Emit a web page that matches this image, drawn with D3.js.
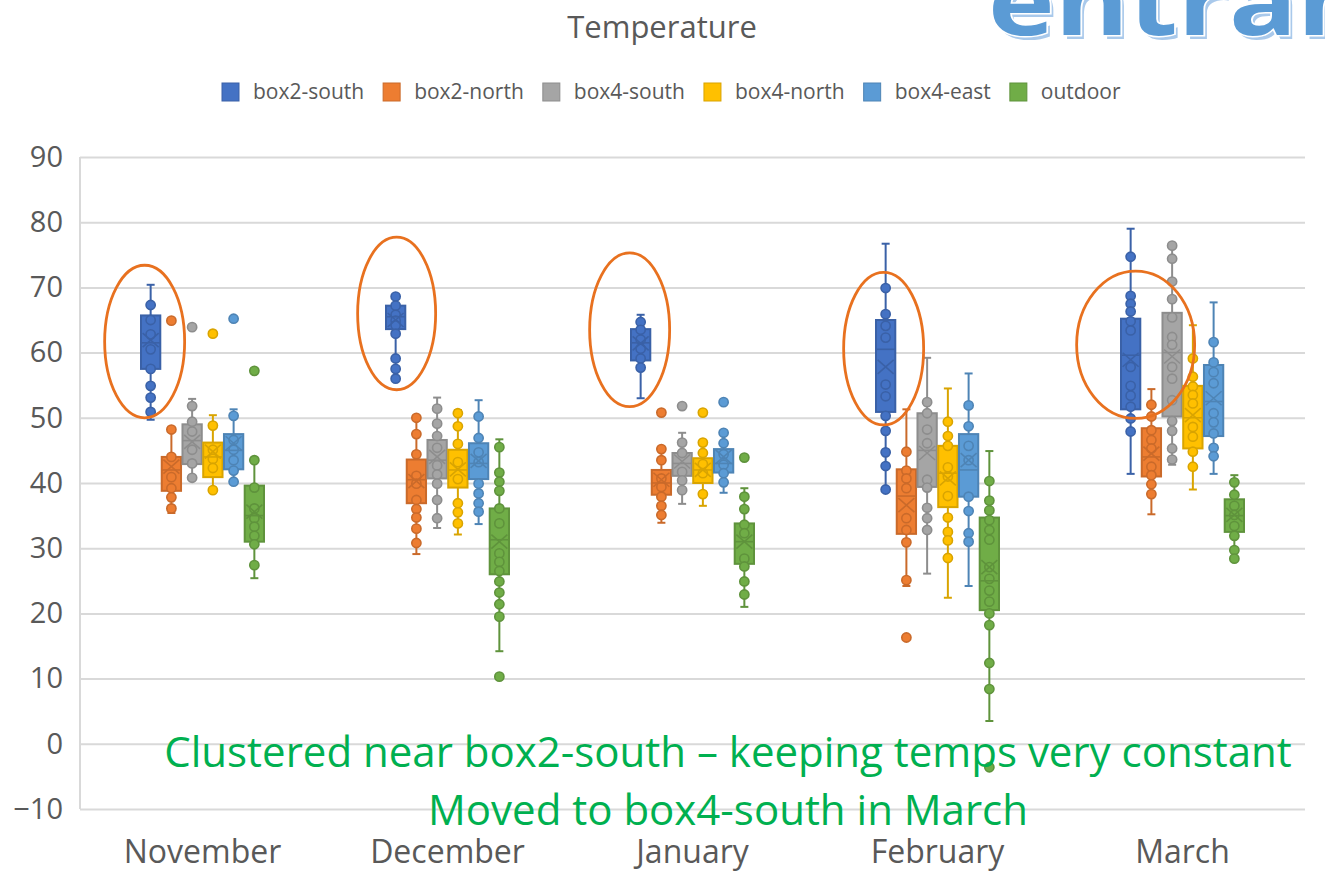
<!DOCTYPE html>
<html>
<head>
<meta charset="utf-8">
<script src="https://cdn.jsdelivr.net/npm/d3@7"></script>
<style>
  body { margin: 0; padding: 0; background: #fff; }
  svg { display: block; font-family: 'Open Sans', sans-serif; }
</style>
</head>
<body>
<div id="main"></div>
<script>
// months and series
const months = ['November', 'December', 'January', 'February', 'March'];
const seriesNames = ['box2-south', 'box2-north', 'box4-south', 'box4-north', 'box4-east', 'outdoor'];
const seriesColors = ['#4472C4', '#ED7D31', '#A5A5A5', '#FFC000', '#5B9BD5', '#70AD47'];
const yTicks = [-10, 0, 10, 20, 30, 40, 50, 60, 70, 80, 90];

// box stats per month: [whiskerLow, q1, median, q3, whiskerHigh, mean]
const box2South = [[49.7, 57.5, 61.5, 65.7, 70.4, 61.9], [56.0, 63.6, 65.5, 67.2, 68.6, 65.0], [53.0, 58.8, 61.5, 63.6, 65.8, 61.4], [39.0, 50.9, 60.5, 65.0, 76.7, 57.8], [41.4, 51.3, 59.6, 65.2, 79.0, 58.9]];
const box2North = [[35.4, 38.8, 42.0, 44.0, 48.2, 42.5], [29.1, 36.9, 40.5, 43.6, 50.0, 40.3], [33.9, 38.2, 40.0, 42.0, 45.2, 40.5], [24.2, 32.2, 38.0, 42.1, 51.3, 36.6], [35.2, 41.0, 44.0, 48.4, 54.4, 44.5]];
const box4South = [[40.8, 42.9, 46.5, 49.0, 52.9, 46.3], [33.1, 40.7, 43.5, 46.6, 53.1, 44.0], [36.8, 41.1, 43.0, 44.6, 47.7, 43.3], [26.1, 39.4, 45.0, 50.7, 59.2, 44.6], [42.8, 50.2, 60.0, 66.1, 76.4, 59.4]];
const box4North = [[38.9, 40.9, 44.0, 46.2, 50.4, 44.8], [32.1, 39.3, 42.0, 45.1, 51.2, 42.1], [36.5, 40.0, 42.0, 43.8, 46.2, 42.0], [22.4, 36.3, 41.5, 45.7, 54.5, 40.7], [39.0, 45.3, 50.0, 54.9, 64.2, 50.4]];
const box4East = [[40.2, 42.1, 45.0, 47.5, 51.3, 46.1], [33.7, 40.6, 43.0, 46.1, 52.7, 43.4], [38.5, 41.6, 43.0, 45.2, 47.7, 44.0], [24.2, 37.9, 42.0, 47.5, 56.8, 43.5], [41.4, 47.2, 52.5, 58.1, 67.7, 53.0]];
const outdoor = [[25.4, 31.0, 35.0, 39.6, 43.5, 35.6], [14.2, 26.0, 31.3, 36.1, 46.7, 31.0], [21.0, 27.6, 31.0, 33.8, 39.2, 31.0], [3.5, 20.5, 25.0, 34.7, 44.9, 27.1], [28.4, 32.5, 35.0, 37.5, 41.2, 35.1]];

// data points shown per month (inner points and outliers)
const box2SouthPts = [
  [67.3, 65.0, 62.8, 60.5, 57.5, 54.9, 53.1, 50.9],
  [68.6, 67.2, 65.8, 64.9, 64.2, 62.9, 59.1, 57.5, 56.0],
  [64.7, 63.5, 62.0, 60.6, 59.1, 57.7],
  [69.9, 65.9, 64.1, 62.3, 55.1, 53.3, 50.3, 48.0, 44.7, 42.6, 39.0],
  [74.7, 68.7, 67.5, 66.3, 64.8, 63.4, 57.8, 54.9, 53.4, 51.7, 49.9, 47.9]
];
const box2NorthPts = [
  [64.9, 48.2, 44.0, 40.9, 39.2, 37.8, 36.1],
  [50.0, 47.5, 44.4, 41.1, 39.9, 37.4, 36.0, 34.7, 33.0, 30.8],
  [50.8, 45.2, 43.5, 40.7, 39.4, 37.9, 36.5, 35.1],
  [44.8, 41.9, 40.7, 39.2, 34.6, 32.8, 30.9, 25.1, 16.3],
  [52.0, 50.2, 48.1, 46.6, 45.3, 42.5, 41.2, 39.8, 38.3]
];
const box4SouthPts = [
  [63.9, 51.8, 49.4, 47.9, 45.1, 43.0, 40.8],
  [51.4, 49.1, 47.2, 45.4, 42.7, 41.3, 39.9, 37.4, 34.6],
  [51.8, 46.2, 44.6, 41.7, 40.4, 38.9],
  [52.4, 50.7, 48.2, 46.1, 40.5, 39.3, 36.2, 34.6, 32.8],
  [76.4, 74.4, 70.9, 68.2, 65.4, 62.4, 61.2, 57.8, 56.0, 52.7, 49.5, 48.0, 45.3, 43.6]
];
const box4NorthPts = [
  [62.9, 48.8, 45.1, 43.7, 42.3, 38.9],
  [50.7, 48.7, 46.0, 43.2, 40.6, 36.9, 35.5, 33.8],
  [50.8, 46.2, 44.6, 42.9, 41.5, 38.3],
  [49.4, 47.2, 45.7, 42.4, 41.0, 38.0, 34.7, 32.5, 31.2, 28.5],
  [59.1, 56.3, 54.8, 53.5, 52.2, 48.6, 47.1, 44.8, 42.5]
];
const box4EastPts = [
  [65.2, 50.3, 46.6, 45.1, 43.5, 41.9, 40.2],
  [50.2, 46.9, 44.7, 43.2, 39.9, 38.4, 36.9, 35.6],
  [52.4, 47.7, 46.1, 44.4, 42.8, 41.5, 40.1],
  [51.9, 48.7, 45.7, 43.5, 37.9, 35.7, 32.3, 31.0],
  [61.6, 58.5, 57.0, 55.3, 50.7, 49.3, 47.6, 45.4, 44.1]
];
const outdoorPts = [
  [57.2, 43.5, 39.3, 36.1, 34.6, 33.3, 31.9, 30.6, 27.4],
  [45.5, 41.6, 40.2, 38.8, 36.1, 33.8, 29.2, 27.9, 26.5, 24.9, 23.2, 21.4, 19.5, 10.3],
  [43.9, 37.9, 36.0, 33.6, 32.3, 28.4, 27.2, 24.9, 22.9],
  [40.3, 37.3, 35.8, 34.3, 32.8, 31.3, 27.1, 25.3, 23.5, 21.8, 20.0, 18.2, 12.4, 8.4, -3.6],
  [40.1, 38.2, 36.5, 35.1, 33.4, 31.9, 29.7, 28.4]
];

// hand-drawn ellipses: month, x shift from box2-south (px), centre value, half-height (value units), half-width (px)
const ellipseMonths = months;
const ellipseShift = [-6, 1, -11, -2, 5];
const ellipseCenter = [61.7, 66.0, 63.5, 60.6, 61.2];
const ellipseHalfHeight = [11.7, 11.7, 11.8, 11.7, 11.3];
const ellipseHalfWidth = [40, 39, 40, 40, 59];

const noteLines = ['Clustered near box2-south \u2013 keeping temps very constant', 'Moved to box4-south in March'];

const allStats = [box2South, box2North, box4South, box4North, box4East, outdoor];
const allPts = [box2SouthPts, box2NorthPts, box4SouthPts, box4NorthPts, box4EastPts, outdoorPts];

const WIDTH = 1325, HEIGHT = 882;
const LEFT = 80, RIGHT = 1305, TOP = 157, BOTTOM = 809;
const TEXT = '#595959';

const svg = d3.select('#main').append('svg')
    .attr('width', WIDTH)
    .attr('height', HEIGHT);
svg.append('rect').attr('width', WIDTH).attr('height', HEIGHT).attr('fill', '#fff');

const y = d3.scaleLinear().domain([-10, 90]).range([BOTTOM, TOP]);
const x0 = d3.scaleBand().domain(months).range([LEFT, RIGHT]);
const x1 = d3.scaleBand().domain(seriesNames).range([61, 184]).paddingInner(0.07);
const color = d3.scaleOrdinal().domain(seriesNames).range(seriesColors);
const dark = (c) => d3.color(c).darker(0.45).formatHex();

// gridlines + y axis
const axisY = d3.axisLeft(y).tickValues(yTicks).tickSize(-(RIGHT - LEFT)).tickPadding(17);
const gy = svg.append('g')
    .attr('transform', `translate(${LEFT},0)`)
    .call(axisY);
gy.select('.domain').remove();
gy.selectAll('.tick line').attr('stroke', '#d9d9d9').attr('stroke-width', 2);
gy.selectAll('.tick text')
    .attr('fill', TEXT)
    .attr('font-size', 29)
    .attr('font-family', "'Open Sans', sans-serif");
svg.append('line')
    .attr('x1', LEFT).attr('x2', LEFT)
    .attr('y1', TOP).attr('y2', BOTTOM)
    .attr('stroke', '#d9d9d9').attr('stroke-width', 2);

// x axis labels
const axisX = d3.axisBottom(x0).tickSize(0).tickPadding(31);
const gx = svg.append('g')
    .attr('transform', `translate(0,${BOTTOM})`)
    .call(axisX);
gx.select('.domain').remove();
gx.selectAll('.tick text')
    .attr('fill', TEXT)
    .attr('font-size', 32)
    .attr('font-family', "'Open Sans', sans-serif");

// boxes
seriesNames.forEach((name, si) => {
    const c = color(name);
    const dc = dark(c);
    const rows = months.map((m, mi) => {
        const [lo, q1, med, q3, hi, mean] = allStats[si][mi];
        return { m, lo, q1, med, q3, hi, mean, pts: allPts[si][mi], cx: x0(m) + x1(name) + x1.bandwidth() / 2 };
    });
    const g = svg.append('g').attr('class', 'series');
    const bw = x1.bandwidth();
    const grp = g.selectAll('g').data(rows).enter().append('g');

    grp.append('line')
        .attr('x1', d => d.cx).attr('x2', d => d.cx)
        .attr('y1', d => y(d.hi)).attr('y2', d => y(d.lo))
        .attr('stroke', dc).attr('stroke-width', 2);
    grp.selectAll('.cap').data(d => [d.lo, d.hi].map(v => ({ v, cx: d.cx }))).enter().append('line')
        .attr('class', 'cap')
        .attr('x1', d => d.cx - 4).attr('x2', d => d.cx + 4)
        .attr('y1', d => y(d.v)).attr('y2', d => y(d.v))
        .attr('stroke', dc).attr('stroke-width', 2);
    grp.append('rect')
        .attr('x', d => d.cx - bw / 2)
        .attr('width', bw)
        .attr('y', d => y(d.q3))
        .attr('height', d => y(d.q1) - y(d.q3))
        .attr('fill', c)
        .attr('stroke', dc).attr('stroke-width', 2);
    grp.selectAll('circle').data(d => d.pts.map(v => ({ v, cx: d.cx }))).enter().append('circle')
        .attr('cx', d => d.cx)
        .attr('cy', d => y(d.v))
        .attr('r', 4.6)
        .attr('fill', c)
        .attr('stroke', dc).attr('stroke-width', 1.6);
    grp.append('line')
        .attr('x1', d => d.cx - bw / 2).attr('x2', d => d.cx + bw / 2)
        .attr('y1', d => y(d.med)).attr('y2', d => y(d.med))
        .attr('stroke', dc).attr('stroke-width', 1.6);
    grp.append('path')
        .attr('d', d => {
            const my = y(d.mean);
            return `M${d.cx - 8},${my - 7}L${d.cx + 8},${my + 7}M${d.cx - 8},${my + 7}L${d.cx + 8},${my - 7}`;
        })
        .attr('fill', 'none')
        .attr('stroke', dc).attr('stroke-width', 1.6);
});

// orange ellipses
const ellipses = ellipseMonths.map((m, i) => ({
    cx: x0(m) + x1('box2-south') + x1.bandwidth() / 2 + ellipseShift[i],
    cy: y(ellipseCenter[i]),
    rx: ellipseHalfWidth[i],
    ry: y(ellipseCenter[i] - ellipseHalfHeight[i]) - y(ellipseCenter[i])
}));
svg.append('g').selectAll('ellipse').data(ellipses).enter().append('ellipse')
    .attr('cx', d => d.cx).attr('cy', d => d.cy)
    .attr('rx', d => d.rx).attr('ry', d => d.ry)
    .attr('fill', 'none')
    .attr('stroke', '#E8711F').attr('stroke-width', 2.8);

// title
svg.append('text')
    .text('Temperature')
    .attr('x', 662).attr('y', 38)
    .attr('text-anchor', 'middle')
    .attr('font-size', 31)
    .attr('fill', TEXT);

// legend
const legend = svg.append('g').attr('transform', 'translate(0,92)');
let lx = 222;
seriesNames.forEach((name) => {
    const c = color(name);
    legend.append('rect')
        .attr('x', lx).attr('y', -9)
        .attr('width', 17).attr('height', 18)
        .attr('fill', c).attr('stroke', dark(c)).attr('stroke-width', 1);
    const t = legend.append('text')
        .text(name)
        .attr('x', lx + 31).attr('y', 7)
        .attr('font-size', 21)
        .attr('fill', TEXT);
    lx += 31 + t.node().getComputedTextLength() + 19;
});

// green annotation text
svg.append('g').selectAll('text').data(noteLines).enter().append('text')
    .text(d => d)
    .attr('x', 728)
    .attr('y', (d, i) => 767 + i * 58)
    .attr('text-anchor', 'middle')
    .attr('font-size', 42)
    .attr('fill', '#00B050');

// "entrance" word art at top right, cut by the page edge
const word = svg.append('g')
    .attr('font-weight', 'bold')
    .attr('font-size', 94)
    .attr('transform', 'translate(988,35) scale(1.2,1)');
word.append('text')
    .text('entrance')
    .attr('x', 3).attr('y', 4)
    .attr('fill', '#A9C9EB');
word.append('text')
    .text('entrance')
    .attr('x', 0).attr('y', 0)
    .attr('fill', '#5B9BD5')
    .attr('stroke', '#fff').attr('stroke-width', 3)
    .attr('paint-order', 'stroke');
</script>
</body>
</html>
